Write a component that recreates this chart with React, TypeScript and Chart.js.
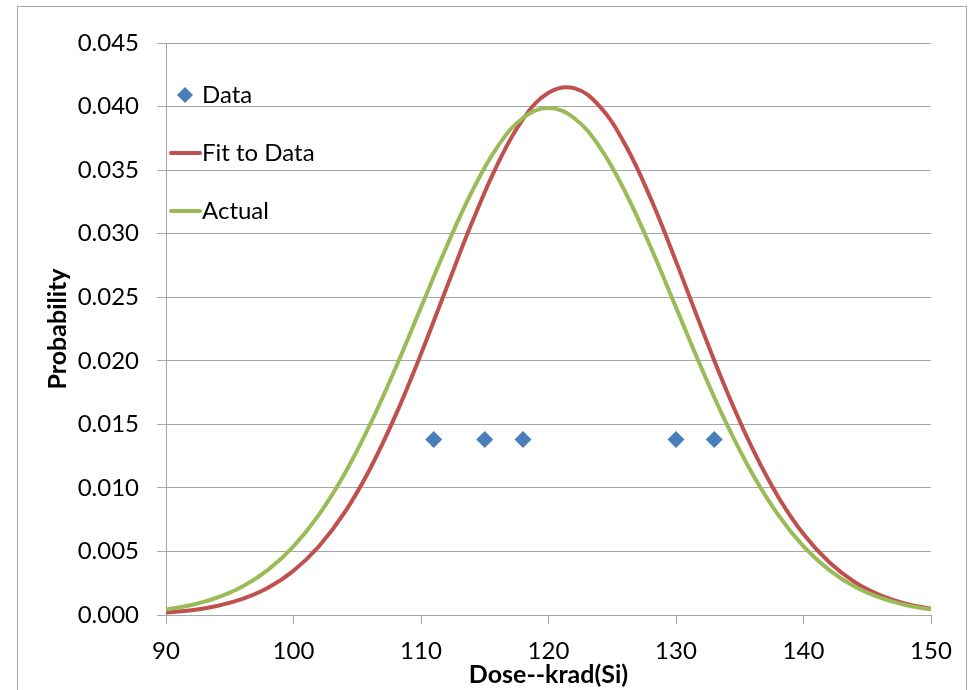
import React, { useEffect, useRef } from "react";
import { Chart, registerables } from "chart.js";

Chart.register(...registerables);

// X positions of curve samples (krad(Si))
const curveX = [90, 92, 94, 96, 98, 100, 102, 104, 106, 108, 110, 112, 114, 116, 118, 120, 122, 124, 126, 128, 130, 132, 134, 136, 138, 140, 142, 144, 146, 148, 150];
// "Fit to Data" curve (red)
const fitY = [0.0002, 0.00038, 0.00071, 0.00126, 0.00214, 0.00348, 0.00541, 0.00805, 0.01149, 0.0157, 0.02054, 0.02573, 0.03087, 0.03546, 0.03901, 0.04109, 0.04145, 0.04003, 0.03703, 0.0328, 0.02782, 0.02259, 0.01757, 0.01309, 0.00933, 0.00637, 0.00417, 0.00261, 0.00157, 0.0009, 0.00049];
// "Actual" curve (green)
const actualY = [0.00044, 0.00079, 0.00136, 0.00224, 0.00355, 0.0054, 0.0079, 0.01109, 0.01497, 0.01942, 0.0242, 0.02897, 0.03332, 0.03683, 0.0391, 0.03989, 0.0391, 0.03683, 0.03332, 0.02897, 0.0242, 0.01942, 0.01497, 0.01109, 0.0079, 0.0054, 0.00355, 0.00224, 0.00136, 0.00079, 0.00044];
// "Data" points (blue diamonds)
const dataX = [111, 115, 118, 130, 133];
const dataY = [0.0138, 0.0138, 0.0138, 0.0138, 0.0138];

const seriesLabels = ["Data", "Fit to Data", "Actual"];
const xTitle = "Dose--krad(Si)";
const yTitle = "Probability";

const FONT = "Lato, 'Open Sans', sans-serif";
const GRID = "#a6a6a6";
const BLUE = "#4a7ebb";
const RED = "#c0504d";
const GREEN = "#9bbb59";

const framePlugin = {
  id: "frame",
  beforeDraw(chart: any) {
    const ctx = chart.ctx;
    ctx.save();
    ctx.fillStyle = "#ffffff";
    ctx.fillRect(0, 0, chart.width, chart.height);
    ctx.strokeStyle = "#a6a6a6";
    ctx.lineWidth = 1;
    ctx.strokeRect(17.5, 6.5, 949, 720);
    ctx.restore();
  },
};

const legendPlugin = {
  id: "insideLegend",
  afterDraw(chart: any) {
    const ctx = chart.ctx;
    const ds = chart.data.datasets;
    const textX = 202;
    const baselines = [103, 161, 219];
    ctx.save();
    ctx.font = `24px ${FONT}`;
    ctx.fillStyle = "#000";
    ctx.textAlign = "left";
    ctx.textBaseline = "alphabetic";
    ds.forEach((d: any, i: number) => {
      const base = baselines[i];
      const cy = base - 8;
      if (d.showLine) {
        ctx.strokeStyle = d.borderColor;
        ctx.lineWidth = 4;
        ctx.lineCap = "round";
        ctx.beginPath();
        ctx.moveTo(171, cy);
        ctx.lineTo(200, cy);
        ctx.stroke();
      } else {
        const r = 8;
        const cx = 185;
        ctx.fillStyle = d.backgroundColor;
        ctx.beginPath();
        ctx.moveTo(cx, cy - r);
        ctx.lineTo(cx + r, cy);
        ctx.lineTo(cx, cy + r);
        ctx.lineTo(cx - r, cy);
        ctx.closePath();
        ctx.fill();
      }
      ctx.fillStyle = "#000";
      ctx.fillText(d.label, textX, base);
    });
    ctx.restore();
  },
};

export default function App() {
  const ref = useRef<HTMLCanvasElement | null>(null);

  useEffect(() => {
    if (!ref.current) return;
    const chart = new Chart(ref.current, {
      type: "scatter",
      data: {
        datasets: [
          {
            label: seriesLabels[0],
            data: dataX.map((x, i) => ({ x, y: dataY[i] })),
            pointStyle: "rectRot",
            pointRadius: 8.5,
            backgroundColor: BLUE,
            borderColor: BLUE,
            borderWidth: 0,
            showLine: false,
            order: 0,
          },
          {
            label: seriesLabels[1],
            data: curveX.map((x, i) => ({ x, y: fitY[i] })),
            showLine: true,
            borderColor: RED,
            backgroundColor: RED,
            borderWidth: 4,
            pointRadius: 0,
            tension: 0.4,
            order: 2,
          },
          {
            label: seriesLabels[2],
            data: curveX.map((x, i) => ({ x, y: actualY[i] })),
            showLine: true,
            borderColor: GREEN,
            backgroundColor: GREEN,
            borderWidth: 4,
            pointRadius: 0,
            tension: 0.4,
            order: 1,
          },
        ],
      },
      options: {
        animation: false,
        responsive: false,
        maintainAspectRatio: false,
        layout: { padding: { top: 43, right: 41, left: 0, bottom: 0 } },
        plugins: {
          legend: { display: false },
          tooltip: { enabled: false },
        },
        scales: {
          x: {
            type: "linear",
            min: 90,
            max: 150,
            afterFit: (s: any) => {
              s.height = 75;
            },
            ticks: {
              stepSize: 10,
              color: "#000",
              font: { family: FONT, size: 24 },
              padding: 13,
              maxRotation: 0,
            },
            grid: {
              drawOnChartArea: false,
              drawTicks: true,
              tickLength: 9,
              color: GRID,
              lineWidth: 1,
            },
            border: { display: true, color: GRID, width: 1 },
            title: {
              display: true,
              text: xTitle,
              color: "#000",
              font: { family: FONT, size: 25, weight: "bold" },
              padding: { top: 0, bottom: 0 },
            },
          },
          y: {
            type: "linear",
            min: 0,
            max: 0.045,
            afterFit: (s: any) => {
              s.width = 166;
            },
            ticks: {
              stepSize: 0.005,
              color: "#000",
              font: { family: FONT, size: 24 },
              padding: 18,
              callback: (v: any) => Number(v).toFixed(3),
            },
            grid: {
              drawOnChartArea: true,
              drawTicks: true,
              tickLength: 9,
              color: GRID,
              lineWidth: 1,
            },
            border: { display: true, color: GRID, width: 1 },
            title: {
              display: true,
              text: yTitle,
              color: "#000",
              font: { family: FONT, size: 25, weight: "bold" },
              padding: { top: 43, bottom: 0 },
            },
          },
        },
      },
      plugins: [framePlugin, legendPlugin],
    } as any);
    return () => chart.destroy();
  }, []);

  return (
    <div style={{ position: "absolute", left: 0, top: 0, width: 972, height: 690 }}>
      <canvas ref={ref} width={972} height={690} style={{ width: 972, height: 690 }} />
    </div>
  );
}
